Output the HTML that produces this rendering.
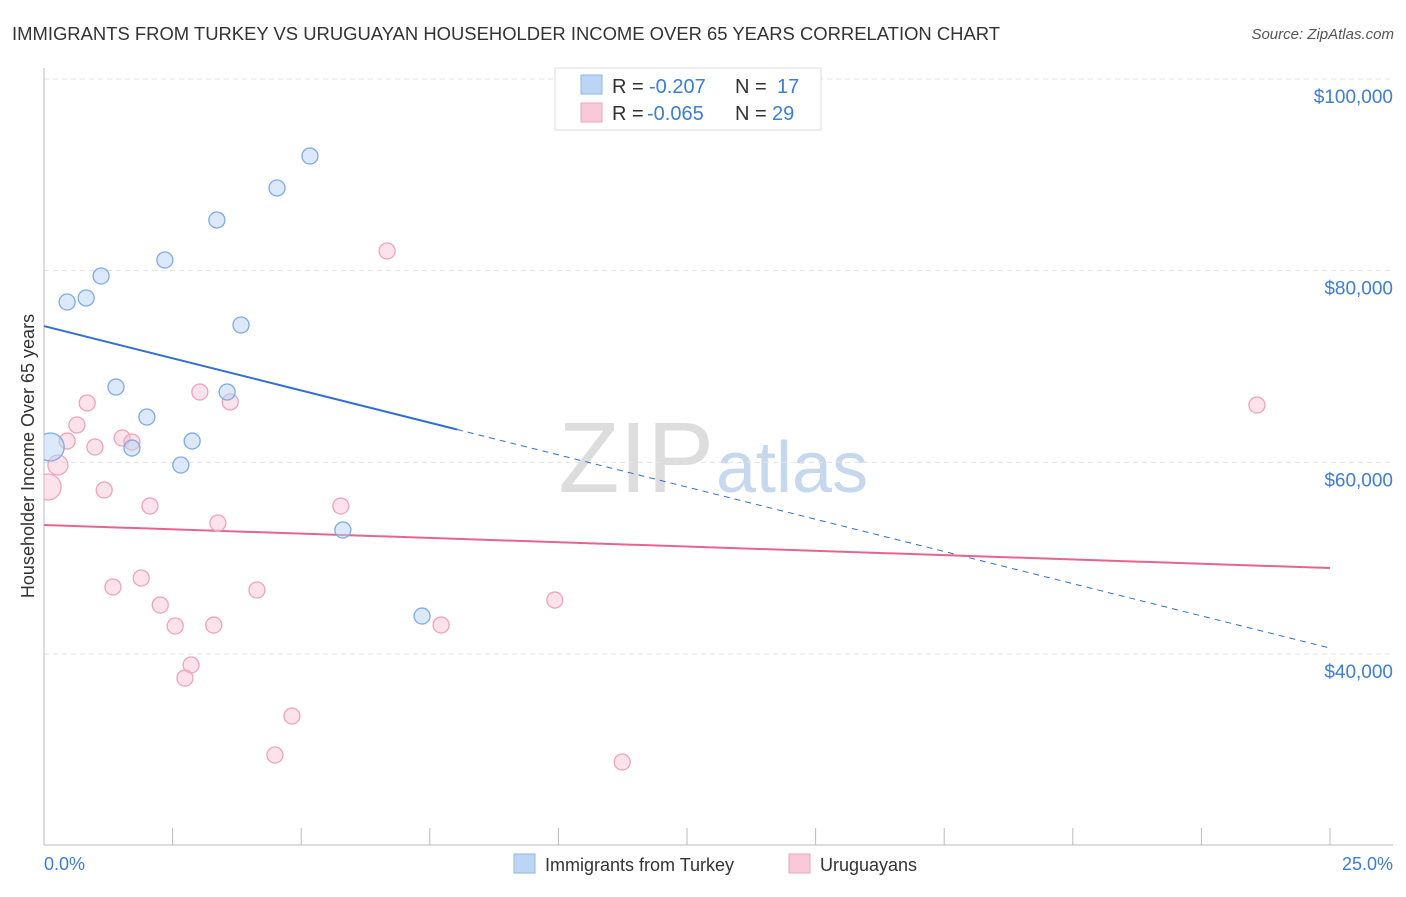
<!DOCTYPE html>
<html><head><meta charset="utf-8"><style>
body{margin:0;background:#fff;font-family:"Liberation Sans",sans-serif;}
svg text{font-family:"Liberation Sans",sans-serif;}
</style></head><body>
<svg id="chart" width="1406" height="892" xmlns="http://www.w3.org/2000/svg">
<defs><clipPath id="plotclip"><rect x="44" y="60" width="1360" height="785"/></clipPath></defs>
<text x="12" y="40" font-size="18" fill="#333" textLength="988" lengthAdjust="spacingAndGlyphs">IMMIGRANTS FROM TURKEY VS URUGUAYAN HOUSEHOLDER INCOME OVER 65 YEARS CORRELATION CHART</text>
<text x="1394" y="39" font-size="15" fill="#555" text-anchor="end" font-style="italic">Source: ZipAtlas.com</text>
<text x="714" y="492" font-size="100" fill="#ddd" text-anchor="end" font-family="Liberation Serif">ZIP</text>
<text x="716" y="492" font-size="72" fill="#c5d8ee">atlas</text>
<g id="grid"></g><g id="axes"></g><g id="trend"></g><g id="points" clip-path="url(#plotclip)"></g>
<text transform="translate(34,456) rotate(-90)" font-size="18" fill="#333" text-anchor="middle">Householder Income Over 65 years</text>
<text x="44" y="870" font-size="18" fill="#3b7dd8">0.0%</text>
<text x="1393" y="870" font-size="18" fill="#3b7dd8" text-anchor="end">25.0%</text>
<g>
<rect x="555" y="68" width="266" height="62" fill="#fff" stroke="#ddd"/>
<rect x="581" y="75" width="21" height="19" fill="#bcd5f5" stroke="#8fb6e8"/>
<rect x="581" y="103" width="21" height="19" fill="#fac9d7" stroke="#eea4bb"/>
<text x="612" y="93" font-size="20" fill="#333">R =</text>
<text x="649" y="93" font-size="20" fill="#3b7dd8">-0.207</text>
<text x="735" y="93" font-size="20" fill="#333">N =</text>
<text x="777" y="93" font-size="20" fill="#3b7dd8">17</text>
<text x="612" y="120" font-size="20" fill="#333">R =</text>
<text x="647" y="120" font-size="20" fill="#3b7dd8">-0.065</text>
<text x="735" y="120" font-size="20" fill="#333">N =</text>
<text x="772" y="120" font-size="20" fill="#3b7dd8">29</text>
</g>
<g>
<rect x="514" y="854" width="21" height="19" fill="#bcd5f5" stroke="#8fb6e8"/>
<text x="545" y="871" font-size="18" fill="#333">Immigrants from Turkey</text>
<rect x="789" y="854" width="21" height="19" fill="#fac9d7" stroke="#eea4bb"/>
<text x="820" y="871" font-size="18" fill="#333">Uruguayans</text>
</g>
</svg>
<script>
const yTicks=[40000,60000,80000,100000];
const yTickLabels=["$40,000","$60,000","$80,000","$100,000"];
const blueX=[0.12,0.45,0.82,1.11,2.35,3.36,4.53,5.17,3.83,1.40,2.00,3.56,1.71,2.88,2.66,5.81,7.35];
const blueY=[61600,76730,77150,79440,81110,85290,88630,91960,74330,67860,64730,67340,61490,62220,59720,52940,43960];
const blueR=[14,8,8,8,8,8,8,8,8,8,8,8,8,8,8,8,8];
const pinkX=[0.08,0.27,0.45,0.64,0.84,0.99,1.17,1.52,1.71,2.06,1.89,1.34,2.26,2.55,3.03,3.62,3.38,2.86,2.74,3.30,4.14,4.82,4.49,5.77,6.67,7.72,9.93,11.24,23.58];
const pinkY=[57430,59720,62220,63900,66190,61600,57110,62540,62120,55440,47930,46990,45110,42920,67340,66300,53670,38850,37490,43020,46680,33530,29460,55440,82050,43020,45630,28730,65980];
const pinkR=[13,10,8,8,8,8,8,8,8,8,8,8,8,8,8,8,8,8,8,8,8,8,8,8,8,8,8,8,8];
const blueTrend=[74220,40620]; const blueSolidEnd=8.03;
const pinkTrend=[53460,48970];
const NS="http://www.w3.org/2000/svg";
const X=p=>44+p*51.44;
const Y=v=>79+(100000-v)*191.67/20000;
function mk(parent,tag,attrs){const e=document.createElementNS(NS,tag);for(const k in attrs)e.setAttribute(k,attrs[k]);document.getElementById(parent).appendChild(e);return e;}
yTicks.forEach((t,i)=>{
 const l=mk('grid','line',{x1:44,x2:1393,y1:Y(t),y2:Y(t),stroke:'#e3e3e3','stroke-dasharray':'5,4'});
 
 
 const tx=mk('grid','text',{x:1393,y:Y(t)+24,'font-size':19,fill:'#3b7dd8','text-anchor':'end'});
 tx.textContent=yTickLabels[i];
 
 
});
const ax=mk('axes','line',{x1:44,x2:44,y1:68,y2:845,stroke:'#bbb'});


const bx=mk('axes','line',{x1:44,x2:1393,y1:845,y2:845,stroke:'#bbb'});


for(let i=0;i<=10;i++){
 const t=mk('axes','line',{x1:X(i*2.5),x2:X(i*2.5),y1:828,y2:845,stroke:'#bbb'});
 
 
}
const by=p=>blueTrend[0]+(blueTrend[1]-blueTrend[0])*p/25;
const b1=mk('trend','line',{x1:X(0),y1:Y(by(0)),x2:X(blueSolidEnd),y2:Y(by(blueSolidEnd)),stroke:'#2f6fd6','stroke-width':2});


const b2=mk('trend','line',{x1:X(blueSolidEnd),y1:Y(by(blueSolidEnd)),x2:X(25),y2:Y(by(25)),stroke:'#2f6fd6','stroke-width':1,'stroke-dasharray':'6,5'});


const p1=mk('trend','line',{x1:X(0),y1:Y(pinkTrend[0]),x2:X(25),y2:Y(pinkTrend[1]),stroke:'#e8648e','stroke-width':2});


pinkX.forEach((x,i)=>{
 const c=mk('points','circle',{cx:X(x),cy:Y(pinkY[i]),r:pinkR[i],fill:'rgba(248,190,208,0.45)',stroke:'#efa3ba','stroke-width':1.3});
 
 
});
blueX.forEach((x,i)=>{
 const c=mk('points','circle',{cx:X(x),cy:Y(blueY[i]),r:blueR[i],fill:'rgba(184,212,245,0.5)',stroke:'#7eaae6','stroke-width':1.3});
 
 
});
</script>
</body></html>
